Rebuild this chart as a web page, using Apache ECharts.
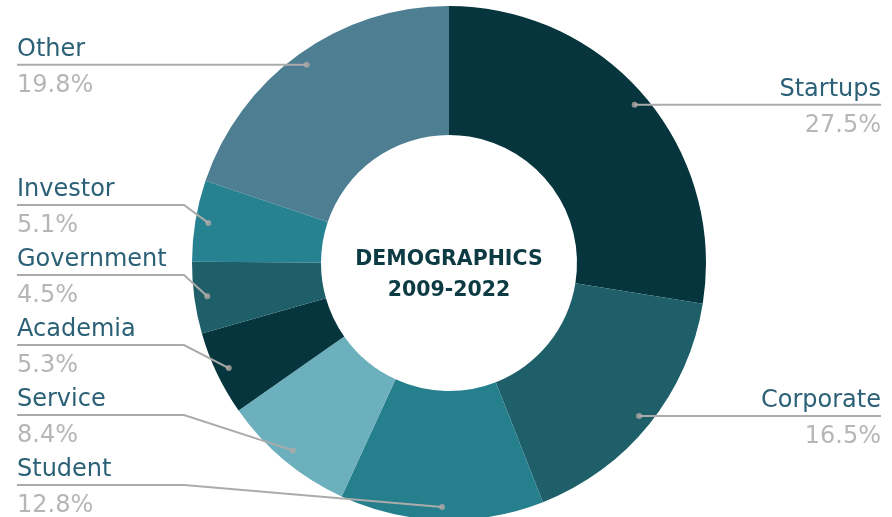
<!DOCTYPE html>
<html><head><meta charset="utf-8">
<script src="https://cdn.jsdelivr.net/npm/echarts@6/dist/echarts.min.js"></script>
<style>html,body{margin:0;padding:0;background:#fff}#c{width:892px;height:517px}</style>
</head><body><div id="c"></div>
<script>
const categories = ['Startups','Corporate','Student','Service','Academia','Government','Investor','Other'];
const shares = [27.5,16.5,12.8,8.4,5.3,4.5,5.1,19.8];
const sliceColors = ['#06353d','#1e5f6a','#267f8d','#6cb0bd','#06353d','#1e5f6a','#268191','#4d7e91'];
const centerLines = ['DEMOGRAPHICS','2009-2022'];

const total = shares.reduce((a,b)=>a+b,0);
const mids = []; let acc = 0;
shares.forEach(v => { mids.push(acc + v/2); acc += v; });

const CX = 449, CY = 263, R0 = 128, R1 = 257, RDOT = 244;
const NAME_LH = 30, PCT_LH = 42, LABEL_H = 70, BOTTOM = 520, TEXT_SHIFT = 3, ELBOW = 167;

// label stacking (per side): start at the dot height, resolve overlaps, keep within bottom bound
const ang = mids.map(m => m / total * 2 * Math.PI);
const natY = ang.map(a => CY - Math.cos(a) * RDOT);
const side = ang.map(a => Math.sin(a) < 0 ? -1 : 1);
const targetY = natY.slice();
[-1, 1].forEach(s => {
  const idx = categories.map((_, i) => i).filter(i => side[i] === s).sort((a, b) => natY[a] - natY[b]);
  for (let k = 1; k < idx.length; k++) targetY[idx[k]] = Math.max(targetY[idx[k]], targetY[idx[k-1]] + LABEL_H);
  let limit = BOTTOM - LABEL_H / 2;
  for (let k = idx.length - 1; k >= 0; k--) { targetY[idx[k]] = Math.min(targetY[idx[k]], limit); limit = targetY[idx[k]] - LABEL_H; }
});

const chart = echarts.init(document.getElementById('c'), null, {renderer:'canvas'});
chart.setOption({
  animation: false,
  title: {
    text: centerLines.join('\n'), left: CX, top: 244, textAlign: 'center', padding: 0,
    textStyle: {fontFamily: 'DejaVu Sans', fontWeight: 'bold', fontSize: 20.5, lineHeight: 31, color: '#0d3b44'}
  },
  polar: {center: [CX, CY], radius: [0, R1]},
  angleAxis: {type: 'value', min: 0, max: total, startAngle: 90, clockwise: true, show: false},
  radiusAxis: {type: 'value', min: 0, max: R1, show: false},
  series: [
    {
      type: 'pie', z: 1, center: [CX, CY], radius: [R0, R1], silent: true,
      label: {show: false}, labelLine: {show: false},
      data: categories.map((c, i) => ({name: c, value: shares[i], itemStyle: {color: sliceColors[i]}}))
    },
    {
      type: 'pie', z: 4, left: 6, right: 0, top: 0, bottom: 0, center: [CX - 6, CY], radius: [R0, RDOT], silent: true,
      itemStyle: {color: 'rgba(0,0,0,0)'},
      label: {
        show: true, alignTo: 'edge', edgeDistance: 11, distanceToLabelLine: 0,
        formatter: p => '{n|' + p.name + '}\n{p|' + p.value.toFixed(1) + '%}',
        rich: {
          n: {fontFamily: 'DejaVu Sans', fontSize: 24, lineHeight: NAME_LH, color: '#2b6077'},
          p: {fontFamily: 'DejaVu Sans', fontSize: 24, lineHeight: PCT_LH, color: '#b6b6b6'}
        }
      },
      labelLine: {show: true, length: 0, length2: 12, lineStyle: {color: '#ababab', width: 2}},
      labelLayout: function (params) {
        const i = params.dataIndex;
        const r = params.labelRect;
        const pts = params.labelLinePoints;
        const ty = targetY[i];
        const s = side[i];
        const res = {dy: ty - (r.y + NAME_LH) + TEXT_SHIFT};
        if (pts) {
          const edgeX = s < 0 ? r.x : r.x + r.width;
          res.labelLinePoints = [[pts[0][0], pts[0][1]], [edgeX - s * ELBOW, ty], [edgeX, ty]];
        }
        return res;
      },
      data: categories.map((c, i) => ({name: c, value: shares[i]}))
    },
    {
      type: 'scatter', coordinateSystem: 'polar', symbol: 'circle', symbolSize: 6, silent: true, z: 6,
      itemStyle: {color: '#b0a9a6'},
      data: mids.map(m => [RDOT, m])
    }
  ]
});
</script></body></html>
